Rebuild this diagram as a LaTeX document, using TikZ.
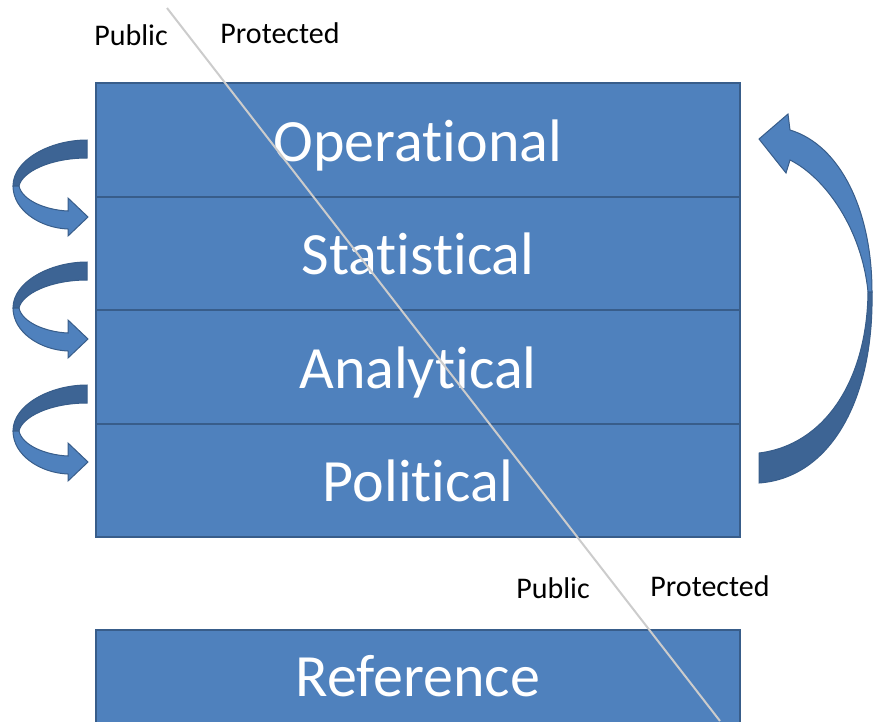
\documentclass[tikz,border=0pt]{standalone}
\usepackage{fontspec}
\setmainfont{Carlito}[RawFeature={-liga}]
\usetikzlibrary{positioning}
\definecolor{tierblue}{HTML}{4F81BD}
\definecolor{tieredge}{HTML}{385D8A}
\definecolor{tierdark}{HTML}{3D6494}

\begin{document}
\begin{tikzpicture}[x=1pt,y=-1pt,
  tier/.style={draw=tieredge, line width=2pt, fill=tierblue, text=white,
    minimum width=644pt, minimum height=113.5pt, inner sep=0pt, outer sep=0pt,
    font=\fontsize{60}{72}\selectfont, text height=43pt, text depth=0pt},
  side/.style={font=\fontsize{30}{36}\selectfont, inner sep=0pt},
  ribbon/.style={draw=tieredge, line width=1pt, fill=tierblue},
  ribbonback/.style={draw=tieredge, line width=1pt, fill=tierdark}]
\useasboundingbox (0,0) rectangle (873,721);
\clip (0,0) rectangle (873,721);

  % tiers
  \node[tier] (op) at (418,139.75) {Operational};
  \node[tier, below=0pt of op] (stat) {Statistical};
  \node[tier, below=0pt of stat] (ana) {Analytical};
  \node[tier, below=0pt of ana] (pol) {Political};

  \node[tier, minimum height=98pt, text height=35pt] (ref) at (418,679) {Reference};

  % left loop arrows
  \foreach \dy in {0,122,245} {
    \begin{scope}[shift={(0,\dy)}]
      \draw[ribbonback] (87,140) .. controls (50,140) and (13,160) .. (13,186)
        -- (19,186) .. controls (22,172) and (50,158) .. (87,158) -- cycle;
      \draw[ribbon] (13,186) .. controls (13,210) and (40,228) .. (68,229)
        -- (68,236) -- (88,217) -- (68,198) -- (68,211)
        .. controls (45,210) and (22,200) .. (19,186) -- cycle;
    \end{scope}
  }

  % right arrow
  \draw[ribbon] (872,292) .. controls (872,210) and (840,145) .. (790,130)
    -- (788,114) -- (759,139) -- (786,173) -- (790,160)
    .. controls (826,178) and (862,230) .. (868,292) -- cycle;
  \draw[ribbonback] (872,292) .. controls (874,400) and (830,478) .. (759,483)
    -- (759,453) .. controls (825,445) and (867,380) .. (868,292) -- cycle;

  % dividing line
  \coordinate (cuttop) at (167,8);
  \coordinate (cutbot) at (720,721);
  \draw[black!20, line width=2pt] (cuttop) -- (cutbot);

  \node[side] (pubup) at (131,35) {Public};
  \node[side] (protup) at (280,33) {Protected};
  \node[side] (publow) at (553,588) {Public};
  \node[side] (protlow) at (710,586) {Protected};
\end{tikzpicture}
\end{document}
